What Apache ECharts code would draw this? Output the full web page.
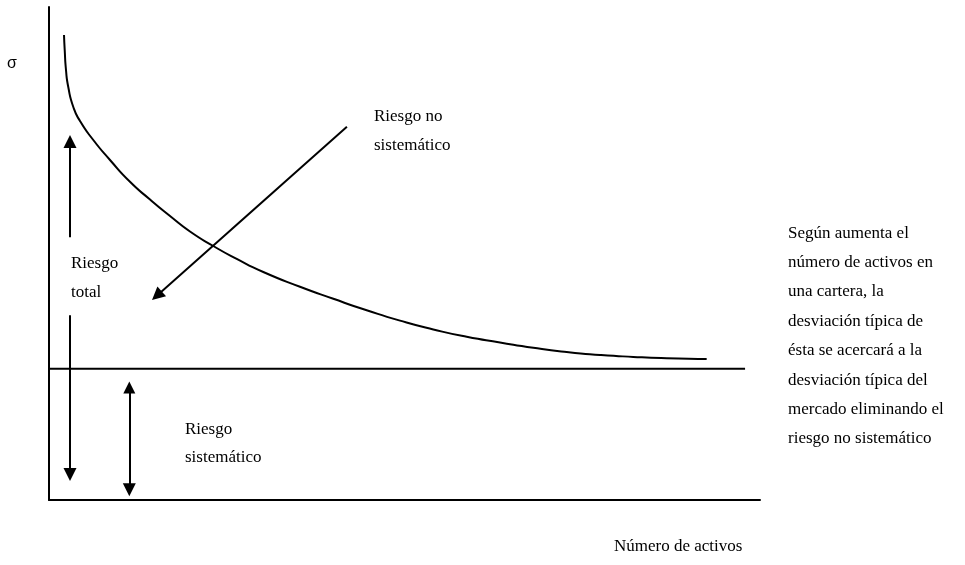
<!DOCTYPE html>
<html>
<head>
<meta charset="utf-8">
<script src="https://cdn.jsdelivr.net/npm/echarts@6/dist/echarts.min.js"></script>
<style>
html,body{margin:0;padding:0;background:#fff;}
#chart{width:965px;height:565px;}
</style>
</head>
<body>
<div id="chart"></div>
<script>
// Portfolio total risk curve (sigma vs number of assets), in axis units 0..100
const curveX = [2.11, 2.21, 2.39, 2.71, 3.42, 4.36, 6.23, 8.58, 11.39, 14.21, 17.02, 19.83, 23.11, 26.40, 30.14, 35.30, 39.99, 44.68, 49.37, 54.05, 58.75, 63.43, 68.12, 72.81, 77.50, 82.18, 86.88, 92.50];
const curveY = [94.32, 91.28, 87.22, 83.77, 79.72, 76.88, 73.02, 68.97, 64.54, 60.95, 57.61, 54.46, 51.52, 48.90, 46.25, 43.25, 40.81, 38.50, 36.39, 34.60, 33.10, 31.95, 30.87, 30.02, 29.43, 29.03, 28.76, 28.60];
// Market (systematic) risk level
const marketLevel = 26.6;
const marketXRange = [0, 97.9];
// Arrows: [x1, y1, x2, y2] (end point = centre of the arrow head)
const arrowTotalUp = [2.95, 53.3, 2.95, 72.7];
const arrowTotalDown = [2.95, 37.5, 2.95, 5.15];
const arrowSystematic = [11.3, 22.8, 11.3, 2.1];
const arrowUnsystematic = [41.9, 75.7, 15.17, 41.44];
// Texts
const yAxisLabel = 'σ';
const xAxisLabel = 'Número de activos';
const labelUnsys = 'Riesgo no\nsistemático';
const labelTotal = 'Riesgo\ntotal';
const labelSys = 'Riesgo\nsistemático';
const noteText = ['Según aumenta el', 'número de activos en', 'una cartera, la', 'desviación típica de', 'ésta se acercará a la', 'desviación típica del', 'mercado eliminando el', 'riesgo no sistemático'];

const chart = echarts.init(document.getElementById('chart'), null, {renderer: 'canvas'});
const SERIF = "'Liberation Serif', 'Times New Roman', serif";
const txt = (s, extra) => Object.assign({text: s, fontFamily: SERIF, fontSize: 17, fill: '#000'}, extra || {});
const lineStyle = {color: '#000', width: 2};

function seg(a) { return {coords: [[a[0], a[1]], [a[2], a[3]]]}; }

const option = {
  animation: false,
  backgroundColor: '#fff',
  grid: {left: 49, top: 7, width: 711, height: 493},
  xAxis: {type: 'value', min: 0, max: 100, axisLine: {lineStyle: {color: '#000', width: 2}},
          axisTick: {show: false}, axisLabel: {show: false}, splitLine: {show: false}},
  yAxis: {type: 'value', min: 0, max: 100, axisLine: {show: true, lineStyle: {color: '#000', width: 2}},
          axisTick: {show: false}, axisLabel: {show: false}, splitLine: {show: false}},
  series: [
    {type: 'line', data: curveX.map((x, i) => [x, curveY[i]]), smooth: 0.6, showSymbol: false,
     lineStyle: lineStyle},
    {type: 'line', data: [[marketXRange[0], marketLevel], [marketXRange[1], marketLevel]], showSymbol: false,
     lineStyle: lineStyle},
    {type: 'lines', coordinateSystem: 'cartesian2d', symbol: ['none', 'triangle'], symbolSize: [12, 13],
     lineStyle: {color: '#000', width: 2, opacity: 1},
     data: [seg(arrowTotalUp), seg(arrowTotalDown), seg(arrowUnsystematic)]},
    {type: 'lines', coordinateSystem: 'cartesian2d', symbol: ['triangle', 'triangle'], symbolSize: [12, 13],
     lineStyle: {color: '#000', width: 2, opacity: 1},
     data: [seg(arrowSystematic)]}
  ],
  graphic: [
    {type: 'text', x: 7, y: 64, style: {text: yAxisLabel, fontFamily: "'Liberation Sans', Arial, sans-serif", fontSize: 16, fill: '#000', verticalAlign: 'middle'}},
    {type: 'text', x: 374, y: 102, style: txt(labelUnsys, {lineHeight: 29, verticalAlign: 'top'})},
    {type: 'text', x: 71, y: 249, style: txt(labelTotal, {lineHeight: 29, verticalAlign: 'top'})},
    {type: 'text', x: 185, y: 416, style: txt(labelSys, {lineHeight: 28, verticalAlign: 'top'})},
    {type: 'text', x: 788, y: 218.4, style: txt(noteText.join('\n'), {lineHeight: 29.4, verticalAlign: 'top'})},
    {type: 'text', x: 614, y: 547, style: txt(xAxisLabel, {verticalAlign: 'middle'})}
  ]
};
chart.setOption(option);
</script>
</body>
</html>
